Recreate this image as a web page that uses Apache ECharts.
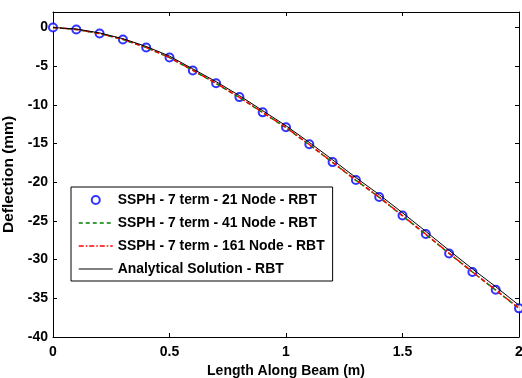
<!DOCTYPE html>
<html>
<head>
<meta charset="utf-8">
<script src="https://cdn.jsdelivr.net/npm/echarts@6/dist/echarts.min.js"></script>
<style>
html,body{margin:0;padding:0;background:#fff;}
#chart{width:522px;height:378px;}
</style>
</head>
<body>
<div id="chart"></div>
<script>
// Positions along the beam (m)
var xNodes = [0,0.1,0.2,0.3,0.4,0.5,0.6,0.7,0.8,0.9,1.0,1.1,1.2,1.3,1.4,1.5,1.6,1.7,1.8,1.9,2.0];
// SSPH - 7 term - 21 Node - RBT (circles)
var ssph21 = [0,-0.26,-0.77,-1.55,-2.58,-3.87,-5.55,-7.2,-9.0,-10.97,-12.9,-15.1,-17.4,-19.7,-21.9,-24.3,-26.7,-29.2,-31.6,-33.9,-36.3];
// SSPH - 7 term - 41 Node - RBT (green dashed)
var ssph41 = [0,-0.25,-0.8,-1.55,-2.6,-3.9,-5.55,-7.25,-9.05,-11.0,-12.95,-15.15,-17.45,-19.75,-21.95,-24.35,-26.75,-29.2,-31.6,-33.95,-36.3];
// SSPH - 7 term - 161 Node - RBT (red dash-dot)
var ssph161 = [0,-0.25,-0.78,-1.52,-2.58,-3.88,-5.52,-7.22,-9.02,-10.98,-12.92,-15.12,-17.42,-19.72,-21.92,-24.32,-26.72,-29.18,-31.58,-33.92,-36.28];
// Analytical Solution - RBT (black solid)
var analytical = [0,-0.2,-0.7,-1.45,-2.45,-3.7,-5.35,-7.0,-8.8,-10.75,-12.7,-14.85,-17.1,-19.4,-21.6,-23.95,-26.35,-28.8,-31.2,-33.5,-35.9];
// Tick values
var yTicks = [-40,-35,-30,-25,-20,-15,-10,-5,0];
var xTicks = [0,0.5,1,1.5,2];
var seriesNames = ['SSPH - 7 term - 21 Node - RBT','SSPH - 7 term - 41 Node - RBT','SSPH - 7 term - 161 Node - RBT','Analytical Solution - RBT'];

function pairs(xs, ys){ return xs.map(function(x,i){ return [x, ys[i]]; }); }

var FONT = '"Liberation Sans", Arial, sans-serif';
var chart = echarts.init(document.getElementById('chart'), null, {renderer:'canvas'});
var axisLine = {show:true, onZero:false, lineStyle:{color:'#000', width:1}};
var hiddenSym = {color:'rgba(0,0,0,0)', borderColor:'rgba(0,0,0,0)', borderWidth:0, opacity:0};
var option = {
  animation:false,
  backgroundColor:'#fff',
  textStyle:{fontFamily:FONT, fontWeight:'bold', color:'#000'},
  grid:{left:53, right:3, top:12, bottom:41, show:false, containLabel:false, outerBoundsMode:'none'},
  legend:{
    orient:'vertical', left:71, top:187,
    data:[
      {name:seriesNames[0], itemStyle:{borderWidth:1}},
      {name:seriesNames[1], itemStyle:hiddenSym, lineStyle:{width:1.5}},
      {name:seriesNames[2], itemStyle:hiddenSym, lineStyle:{width:1.5}},
      {name:seriesNames[3], itemStyle:hiddenSym, lineStyle:{width:1}}
    ],
    itemWidth:34, itemHeight:8, itemGap:9,
    padding:[6,8,5,7],
    borderColor:'#000', borderWidth:1, backgroundColor:'#fff',
    textStyle:{fontFamily:FONT, fontWeight:'bold', fontSize:13.9, color:'#000', lineHeight:14},
    selectedMode:false
  },
  xAxis:[{
    type:'value', min:0, max:2, interval:0.5, position:'bottom',
    name:'Length Along Beam (m)', nameLocation:'middle', nameGap:25,
    nameTextStyle:{fontFamily:FONT, fontWeight:'bold', fontSize:14, color:'#000'},
    axisLine:axisLine,
    axisTick:{show:true, inside:true, length:4, lineStyle:{color:'#000'}, customValues:xTicks},
    axisLabel:{show:true, margin:8, fontFamily:FONT, fontWeight:'bold', fontSize:14, color:'#000', customValues:xTicks,
      formatter:function(v){ return String(v); }},
    splitLine:{show:false}
  },{
    type:'value', min:0, max:2, interval:0.5, position:'top',
    axisLine:axisLine,
    axisTick:{show:true, inside:true, length:4, lineStyle:{color:'#000'}, customValues:xTicks},
    axisLabel:{show:false}, splitLine:{show:false}
  }],
  yAxis:[{
    type:'value', min:-40, max:2, interval:5, position:'left',
    name:'Deflection (mm)', nameLocation:'middle', nameGap:27, nameRotate:90,
    nameTextStyle:{fontFamily:FONT, fontWeight:'bold', fontSize:15.5, color:'#000'},
    axisLine:axisLine,
    axisTick:{show:true, inside:true, length:4, lineStyle:{color:'#000'}, customValues:yTicks},
    axisLabel:{show:true, margin:5, fontFamily:FONT, fontWeight:'bold', fontSize:14, color:'#000', customValues:yTicks},
    splitLine:{show:false}
  },{
    type:'value', min:-40, max:2, interval:5, position:'right',
    axisLine:axisLine,
    axisTick:{show:true, inside:true, length:4, lineStyle:{color:'#000'}, customValues:yTicks},
    axisLabel:{show:false}, splitLine:{show:false}
  }],
  series:[{
    name:seriesNames[0], type:'scatter', symbol:'emptyCircle', symbolSize:8,
    itemStyle:{color:'#0000ff', borderColor:'#0000ff', borderWidth:1},
    data:pairs(xNodes, ssph21), z:2
  },{
    name:seriesNames[1], type:'line', symbol:'none', showSymbol:false,
    lineStyle:{color:'#008000', width:1.5, type:[4,3]}, itemStyle:{color:'#008000'},
    data:pairs(xNodes, ssph41), z:3
  },{
    name:seriesNames[2], type:'line', symbol:'none', showSymbol:false,
    lineStyle:{color:'#ff0000', width:1.5, type:[5,2,1.5,2]}, itemStyle:{color:'#ff0000'},
    data:pairs(xNodes, ssph161), z:4
  },{
    name:seriesNames[3], type:'line', symbol:'none', showSymbol:false,
    lineStyle:{color:'#000', width:1}, itemStyle:{color:'#000'},
    data:pairs(xNodes, analytical), z:5
  }]
};
chart.setOption(option);
</script>
</body>
</html>
